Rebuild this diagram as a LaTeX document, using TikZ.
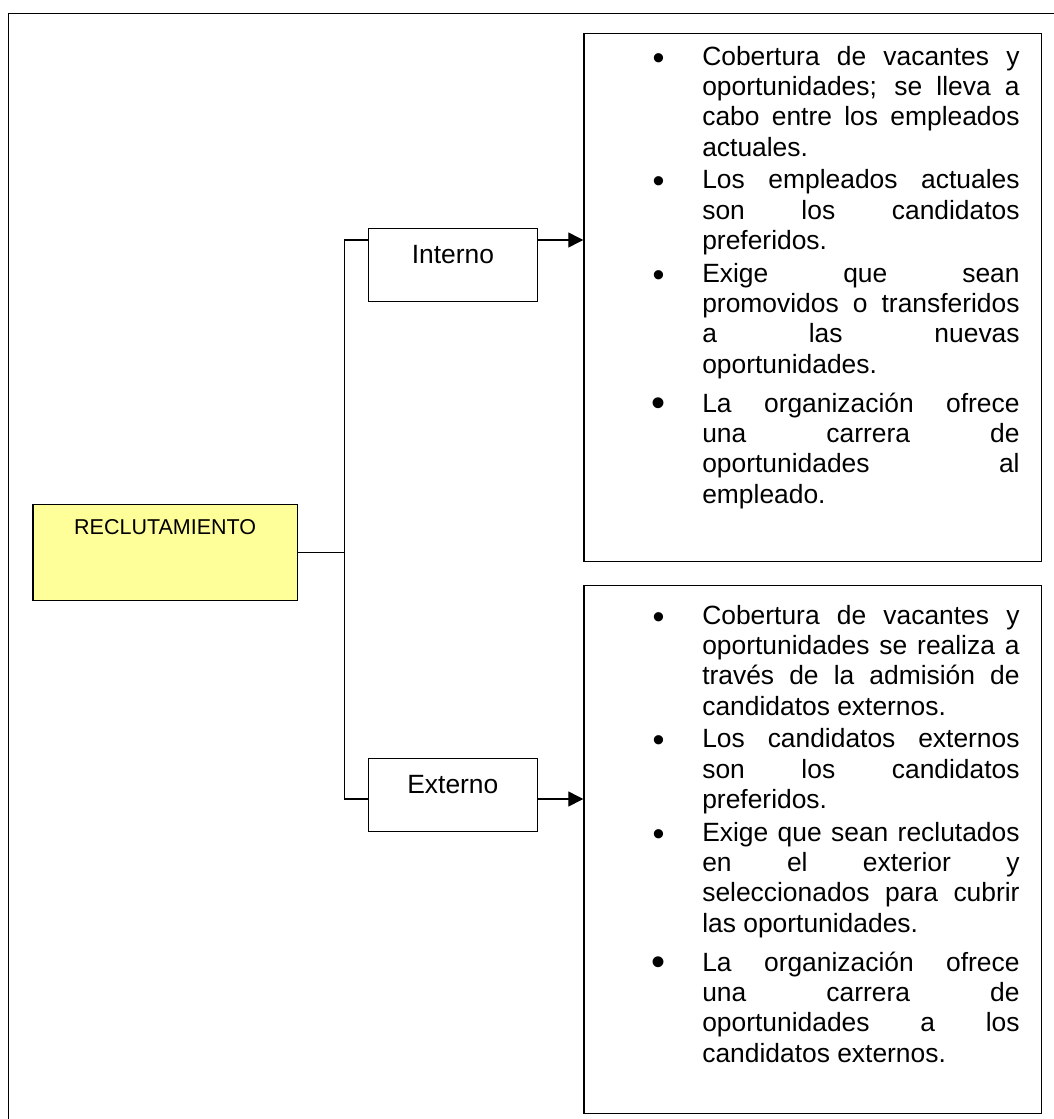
\documentclass[tikz,border=0pt]{standalone}
\usepackage{fontspec}
\setmainfont{Liberation Sans}
\usetikzlibrary{arrows.meta}
\definecolor{amarillo}{HTML}{FFFF99}
\newcommand{\vineta}[1][34]{\llap{\makebox[0pt]{\raisebox{-4pt}{\fontsize{#1}{#1}\selectfont\textbullet}}\hspace{43.7pt}}}
\newcommand{\lista}{\fontsize{26.4}{30.2}\selectfont\parindent=0pt\parskip=0pt\leftskip=118.4pt\rightskip=21.7pt\spaceskip=0pt\xspaceskip=0pt\tolerance=10000\hyphenpenalty=10000\hbadness=10000}
\tikzset{
 caja/.style={draw,line width=1.2pt,inner sep=0pt},
 tipo/.style={caja,minimum width=168.5pt,text height=35.3pt,text depth=37.7pt,font=\fontsize{26.4}{30}\selectfont},
 texto/.style={caja,text width=457.4pt,align=justify,anchor=north west},
 linea/.style={line width=1.2pt},
 flecha/.style={line width=1.2pt,-{Triangle[length=15pt,width=15pt]}}
}
\begin{document}
\begin{tikzpicture}[x=1pt,y=-1pt]
 \useasboundingbox (0,0) rectangle (1054,1119);
 \begin{scope}
 \clip (0,0) rectangle (1054,1119);
 \draw[line width=1.4pt] (8.3,13.3) rectangle (1080,1150);
 \end{scope}
 \node[caja,line width=1.4pt,fill=amarillo,anchor=north west,minimum width=264.4pt,text height=29.3pt,text depth=66.7pt,font=\fontsize{21.5}{24}\selectfont] (reclut) at (32.3,504) {RECLUTAMIENTO};
 \node[tipo,anchor=north west] (interno) at (368,228) {Interno};
 \node[tipo,anchor=north west] (externo) at (368,758) {Externo};
 \node[texto] (bxint) at (583.3,32.7) {\lista
 \noindent\vineta\rule{0pt}{32.2pt}Cobertura de vacantes y\linebreak oportunidades; se lleva a\linebreak cabo entre los empleados\linebreak actuales.\par\vspace{2.5pt}
 \noindent\vineta Los empleados actuales\linebreak son los candidatos\linebreak preferidos.\par\vspace{3pt}
 \noindent\vineta Exige que sean\linebreak promovidos o transferidos\linebreak a las nuevas\linebreak oportunidades.\par\vspace{9.2pt}
 \noindent\vineta[40]La organización ofrece\linebreak una carrera de\linebreak oportunidades al\linebreak empleado.\rule[-58.6pt]{0pt}{0pt}\par};
 \node[texto] (bxext) at (583.3,585) {\lista
 \noindent\vineta\rule{0pt}{38.9pt}Cobertura de vacantes y\linebreak oportunidades se realiza a\linebreak través de la admisión de\linebreak candidatos externos.\par\vspace{2.5pt}
 \noindent\vineta Los candidatos externos\linebreak son los candidatos\linebreak preferidos.\par\vspace{3pt}
 \noindent\vineta Exige que sean reclutados\linebreak en el exterior y\linebreak seleccionados para cubrir\linebreak las oportunidades.\par\vspace{9.2pt}
 \noindent\vineta[40]La organización ofrece\linebreak una carrera de\linebreak oportunidades a los\linebreak candidatos externos.\rule[-51.3pt]{0pt}{0pt}\par};
 \coordinate (ti) at (344.3,240);
 \coordinate (te) at (344.3,799);
 \draw[linea] (ti) -- (te);
 \draw[linea] (reclut.east) -- (reclut.east -| ti);
 \draw[linea] (ti) -- (ti -| interno.west);
 \draw[linea] (te) -- (te -| externo.west);
 \draw[flecha] (ti -| interno.east) -- (ti -| bxint.west);
 \draw[flecha] (te -| externo.east) -- (te -| bxext.west);
\end{tikzpicture}
\end{document}
